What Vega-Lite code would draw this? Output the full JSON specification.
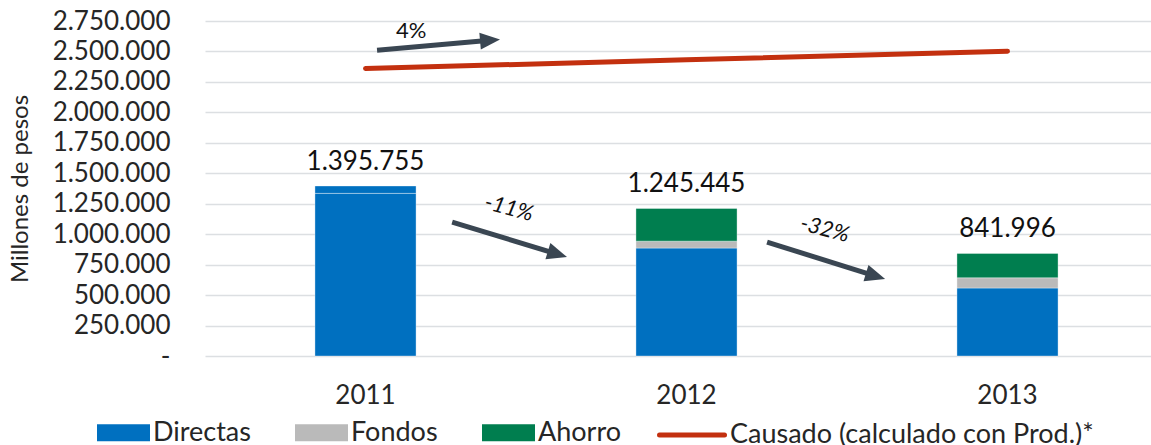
{
  "$schema": "https://vega.github.io/schema/vega-lite/v6.json",
  "width": 963,
  "height": 335,
  "autosize": {"type": "none"},
  "padding": {"left": 205, "top": 21, "right": 0, "bottom": 89},
  "background": "white",
  "config": {
    "view": {"stroke": null},
    "font": "Lato",
    "locale": {"number": {"decimal": ",", "thousands": ".", "grouping": [3], "currency": ["$", ""]}},
    "axisY": {
      "labelOverlap": false,
      "labelFontSize": 26, "labelColor": "#262626", "labelPadding": 35,
      "ticks": false, "domain": false, "grid": true, "gridColor": "#dcdfe2", "gridWidth": 1.5,
      "titleFontSize": 24, "titleFontWeight": "normal", "titleColor": "#262626", "titlePadding": 20
    }
  },
  "datasets": {
    "bars": [
      {"year": "2011", "serie": "Directas", "value": 1335000},
      {"year": "2011", "serie": "Directas", "value": 60755},
      {"year": "2012", "serie": "Directas", "value": 886000},
      {"year": "2012", "serie": "Fondos", "value": 57000},
      {"year": "2012", "serie": "Ahorro", "value": 268000},
      {"year": "2013", "serie": "Directas", "value": 558000},
      {"year": "2013", "serie": "Fondos", "value": 84000},
      {"year": "2013", "serie": "Ahorro", "value": 200000}
    ],
    "causado": [
      {"year": "2011", "serie": "Causado (calculado con Prod.)*", "value": 2360000},
      {"year": "2012", "serie": "Causado (calculado con Prod.)*", "value": 2431000},
      {"year": "2013", "serie": "Causado (calculado con Prod.)*", "value": 2502000}
    ],
    "etiquetas": [
      {"year": "2011", "label": "1.395.755"},
      {"year": "2012", "label": "1.245.445"},
      {"year": "2013", "label": "841.996"}
    ],
    "flechas": [
      {"tipo": "sube", "ax": 0.536, "ay": 2510000, "bx": 0.888, "by": 2592000},
      {"tipo": "baja", "ax": 0.770, "ay": 1099000, "bx": 1.098, "by": 836000},
      {"tipo": "baja", "ax": 1.751, "ay": 935000, "bx": 2.089, "by": 656000}
    ],
    "textos": [
      {"tipo": "sube", "tx": 0.642, "ty": 2666000, "txt": "4%"},
      {"tipo": "baja", "tx": 0.947, "ty": 1214000, "txt": "-11%"},
      {"tipo": "baja", "tx": 1.931, "ty": 1042000, "txt": "-32%"}
    ]
  },
  "layer": [
    {
      "layer": [
        {
          "data": {"name": "bars"},
          "transform": [{"calculate": "indexof(['Directas','Fondos','Ahorro'], datum.serie)", "as": "ord"}],
          "mark": {"type": "bar", "stroke": "white", "strokeWidth": 1, "strokeOpacity": 0.35},
          "encoding": {
            "x": {
              "field": "year", "type": "nominal",
              "scale": {"paddingInner": 0.685, "paddingOuter": 0.3425},
              "axis": {"title": null, "labelAngle": 0, "labelFontSize": 26, "labelColor": "#262626", "labelPadding": 26, "ticks": false, "domain": false, "grid": false}
            },
            "y": {
              "field": "value", "type": "quantitative", "stack": "zero",
              "title": "Millones de pesos",
              "scale": {"domain": [0, 2750000], "nice": false},
              "axis": {"values": [0, 250000, 500000, 750000, 1000000, 1250000, 1500000, 1750000, 2000000, 2250000, 2500000, 2750000], "labelExpr": "datum.value === 0 ? '-' : format(datum.value, ',')"}
            },
            "color": {
              "field": "serie", "type": "nominal",
              "scale": {
                "domain": ["Directas", "Fondos", "Ahorro"],
                "range": ["#0070c0", "#bababa", "#007e4f"]
              },
              "legend": {
                "title": null,
                "orient": "none",
                "legendX": -108,
                "legendY": 385,
                "direction": "horizontal",
                "symbolType": "M-1,-0.32H1V0.32H-1Z",
                "symbolSize": 2809,
                "symbolStrokeWidth": 0,
                "symbolOpacity": 1,
                "labelFontSize": 27,
                "labelColor": "#262626",
                "labelLimit": 0,
                "labelOffset": 3,
                "columnPadding": 44
              }
            },
            "order": {"field": "ord", "type": "quantitative"}
          }
        },
        {
          "data": {"name": "causado"},
          "mark": {"type": "line", "strokeWidth": 5, "strokeCap": "round"},
          "encoding": {
            "x": {"field": "year", "type": "nominal"},
            "y": {"field": "value", "type": "quantitative", "title": "Millones de pesos", "axis": {"values": [0, 250000, 500000, 750000, 1000000, 1250000, 1500000, 1750000, 2000000, 2250000, 2500000, 2750000], "labelExpr": "datum.value === 0 ? '-' : format(datum.value, ',')"}},
            "stroke": {
              "field": "serie", "type": "nominal",
              "scale": {"domain": ["Causado (calculado con Prod.)*"], "range": ["#c3300f"]},
              "legend": {
                "title": null,
                "orient": "none",
                "legendX": 452,
                "legendY": 379,
                "direction": "horizontal",
                "symbolType": "stroke",
                "symbolSize": 4225,
                "symbolStrokeWidth": 5,
                "symbolOpacity": 1,
                "labelFontSize": 27,
                "labelColor": "#262626",
                "labelLimit": 0,
                "labelOffset": 3,
                "encode": {"symbols": {"update": {"strokeCap": {"value": "round"}}}}
              }
            }
          }
        },
        {
          "data": {"name": "bars"},
          "transform": [
            {"aggregate": [{"op": "sum", "field": "value", "as": "top"}], "groupby": ["year"]},
            {"lookup": "year", "from": {"data": {"name": "etiquetas"}, "key": "year", "fields": ["label"]}}
          ],
          "mark": {"type": "text", "dy": -24, "fontSize": 26, "color": "#111111"},
          "encoding": {
            "x": {"field": "year", "type": "nominal"},
            "y": {"field": "top", "type": "quantitative", "title": "Millones de pesos", "axis": {"values": [0, 250000, 500000, 750000, 1000000, 1250000, 1500000, 1750000, 2000000, 2250000, 2500000, 2750000], "labelExpr": "datum.value === 0 ? '-' : format(datum.value, ',')"}},
            "text": {"field": "label", "type": "nominal"}
          }
        }
      ]
    },
    {
      "layer": [
        {
          "data": {"name": "flechas"},
          "mark": {"type": "rule", "strokeWidth": 5, "color": "#3a4652"},
          "encoding": {
            "x": {"field": "ax", "type": "quantitative", "scale": {"domain": [0, 3], "nice": false, "zero": false}, "axis": null},
            "x2": {"field": "bx"},
            "y": {"field": "ay", "type": "quantitative", "title": "Millones de pesos", "axis": {"values": [0, 250000, 500000, 750000, 1000000, 1250000, 1500000, 1750000, 2000000, 2250000, 2500000, 2750000], "labelExpr": "datum.value === 0 ? '-' : format(datum.value, ',')"}},
            "y2": {"field": "by"}
          }
        },
        {
          "data": {"name": "flechas"},
          "transform": [{"filter": "datum.tipo === 'sube'"}],
          "mark": {"type": "point", "shape": "M-1,-0.85L1,0L-1,0.85Z", "size": 400, "filled": true, "opacity": 1, "color": "#3a4652", "angle": 355},
          "encoding": {
            "x": {"field": "bx", "type": "quantitative"},
            "y": {"field": "by", "type": "quantitative", "title": "Millones de pesos", "axis": {"values": [0, 250000, 500000, 750000, 1000000, 1250000, 1500000, 1750000, 2000000, 2250000, 2500000, 2750000], "labelExpr": "datum.value === 0 ? '-' : format(datum.value, ',')"}}
          }
        },
        {
          "data": {"name": "flechas"},
          "transform": [{"filter": "datum.tipo === 'baja'"}],
          "mark": {"type": "point", "shape": "M-1,-0.85L1,0L-1,0.85Z", "size": 400, "filled": true, "opacity": 1, "color": "#3a4652", "angle": 17},
          "encoding": {
            "x": {"field": "bx", "type": "quantitative"},
            "y": {"field": "by", "type": "quantitative", "title": "Millones de pesos", "axis": {"values": [0, 250000, 500000, 750000, 1000000, 1250000, 1500000, 1750000, 2000000, 2250000, 2500000, 2750000], "labelExpr": "datum.value === 0 ? '-' : format(datum.value, ',')"}}
          }
        },
        {
          "data": {"name": "textos"},
          "transform": [{"filter": "datum.tipo === 'sube'"}],
          "mark": {"type": "text", "fontSize": 22, "color": "#111111"},
          "encoding": {
            "x": {"field": "tx", "type": "quantitative"},
            "y": {"field": "ty", "type": "quantitative", "title": "Millones de pesos", "axis": {"values": [0, 250000, 500000, 750000, 1000000, 1250000, 1500000, 1750000, 2000000, 2250000, 2500000, 2750000], "labelExpr": "datum.value === 0 ? '-' : format(datum.value, ',')"}},
            "text": {"field": "txt", "type": "nominal"}
          }
        },
        {
          "data": {"name": "textos"},
          "transform": [{"filter": "datum.tipo === 'baja'"}],
          "mark": {"type": "text", "fontSize": 22, "fontStyle": "italic", "angle": 15, "color": "#111111"},
          "encoding": {
            "x": {"field": "tx", "type": "quantitative"},
            "y": {"field": "ty", "type": "quantitative", "title": "Millones de pesos", "axis": {"values": [0, 250000, 500000, 750000, 1000000, 1250000, 1500000, 1750000, 2000000, 2250000, 2500000, 2750000], "labelExpr": "datum.value === 0 ? '-' : format(datum.value, ',')"}},
            "text": {"field": "txt", "type": "nominal"}
          }
        }
      ]
    }
  ],
  "resolve": {"scale": {"x": "independent"}}
}
